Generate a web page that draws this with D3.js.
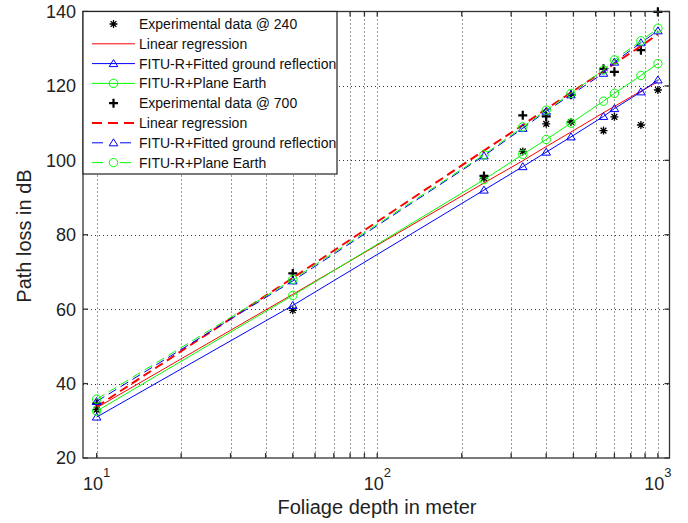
<!DOCTYPE html>
<html>
<head>
<meta charset="utf-8">
<script src="https://cdn.jsdelivr.net/npm/d3@7"></script>
<style>
  html, body { margin: 0; padding: 0; background: #fff; }
  svg { display: block; font-family: "Liberation Sans", Arial, Helvetica, sans-serif; }
</style>
</head>
<body>
<svg id="chart" width="688" height="523"></svg>
<script>
// Foliage depth (m) at which every curve is evaluated
const depth = [10, 50, 240, 330, 400, 490, 640, 700, 870, 1000];

// 240 MHz
const measured240    = [33.0, 59.7, 95.2, 102.4, 109.8, 110.3, 108.0, 111.7, 109.5, 118.9];
const regression240  = [33.5, 64.0, 93.9, 99.9, 103.7, 107.6, 112.8, 114.5, 118.6, 121.1];
const fitted240      = [31.0, 61.0, 92.0, 98.3, 102.2, 106.3, 111.8, 113.9, 118.4, 121.6];
const planeEarth240  = [32.6, 63.7, 94.8, 101.6, 105.6, 110.0, 115.9, 118.0, 122.8, 126.0];

// 700 MHz
const measured700    = [34.6, 69.6, 95.8, 112.1, 111.8, 117.6, 124.6, 123.8, 129.6, 139.9];
const regression700  = [33.8, 68.4, 102.6, 109.5, 113.8, 118.2, 124.0, 126.0, 130.7, 133.9];
const fitted700      = [35.2, 67.6, 101.2, 108.6, 113.2, 117.6, 123.4, 126.4, 131.6, 134.8];
const planeEarth700  = [35.8, 68.0, 101.5, 109.0, 113.5, 118.0, 124.3, 127.0, 132.1, 135.5];

// Axis ticks
const yTicks = [20, 40, 60, 80, 100, 120, 140];
const xMajor = [10, 100, 1000];
const xMinor = [20, 30, 40, 50, 60, 70, 80, 90, 200, 300, 400, 500, 600, 700, 800, 900];
const xExponents = ["1", "2", "3"];

// Legend labels
const legendLabels = [
  "Experimental data @ 240",
  "Linear regression",
  "FITU-R+Fitted ground reflection",
  "FITU-R+Plane Earth",
  "Experimental data @ 700",
  "Linear regression",
  "FITU-R+Fitted ground reflection",
  "FITU-R+Plane Earth"
];

const svg = d3.select("#chart");
const plot = { left: 83, right: 669.5, top: 11.5, bottom: 458 };

const x = d3.scaleLog().domain([8.94, 1100]).range([plot.left, plot.right]);
const y = d3.scaleLinear().domain([20, 140]).range([plot.bottom, plot.top]);

const RED = "#ff0000", BLUE = "#0000ff", GREEN = "#00ff00", INK = "#000";

// Series definitions, in drawing order
const series = [
  { values: measured240,   kind: "points", marker: "asterisk" },
  { values: regression240, kind: "line", color: RED,   width: 1, dash: null },
  { values: fitted240,     kind: "line", color: BLUE,  width: 1, dash: null, marker: "triangle" },
  { values: planeEarth240, kind: "line", color: GREEN, width: 1, dash: null, marker: "circle" },
  { values: measured700,   kind: "points", marker: "plus" },
  { values: regression700, kind: "line", color: RED,   width: 2, dash: "9,5", legendDash: "10,6" },
  { values: fitted700,     kind: "line", color: BLUE,  width: 1, dash: "9,5", legendDash: "11,17", marker: "triangle" },
  { values: planeEarth700, kind: "line", color: GREEN, width: 1, dash: "9,5", legendDash: "11,17", marker: "circle" }
];

// Marker drawing helper
function drawMarker(g, type, cx, cy, color) {
  if (type === "triangle") {
    const w = 4.3, h = 4;
    g.append("path")
      .attr("d", `M${cx},${cy - h} L${cx + w},${cy + h * 0.75} L${cx - w},${cy + h * 0.75} Z`)
      .attr("fill", "none").attr("stroke", color).attr("stroke-width", 1);
  } else if (type === "circle") {
    g.append("circle").attr("cx", cx).attr("cy", cy).attr("r", 4.2)
      .attr("fill", "none").attr("stroke", color).attr("stroke-width", 1);
  } else if (type === "plus") {
    const r = 4.5;
    g.append("path")
      .attr("d", `M${cx - r},${cy} H${cx + r} M${cx},${cy - r} V${cy + r}`)
      .attr("stroke", INK).attr("stroke-width", 2.2).attr("fill", "none");
  } else if (type === "asterisk") {
    const r = 4, k = r * 0.72;
    g.append("path")
      .attr("d", `M${cx - r},${cy} H${cx + r} M${cx},${cy - r} V${cy + r} M${cx - k},${cy - k} L${cx + k},${cy + k} M${cx - k},${cy + k} L${cx + k},${cy - k}`)
      .attr("stroke", INK).attr("stroke-width", 1.3).attr("fill", "none");
  }
}

// Grid
const grid = svg.append("g").attr("stroke", "#333").attr("stroke-width", 1)
  .attr("stroke-dasharray", "1,3");
yTicks.filter(v => v > 20 && v < 140).forEach(v => {
  grid.append("line").attr("x1", plot.left).attr("x2", plot.right)
    .attr("y1", Math.round(y(v)) + 0.5).attr("y2", Math.round(y(v)) + 0.5);
});
xMajor.concat(xMinor).forEach(v => {
  grid.append("line").attr("y1", plot.top).attr("y2", plot.bottom)
    .attr("x1", Math.round(x(v)) + 0.5).attr("x2", Math.round(x(v)) + 0.5);
});

// Data
const lineGen = d3.line().x((d, i) => x(depth[i])).y(d => y(d));
const dataLayer = svg.append("g");
series.forEach(s => {
  const g = dataLayer.append("g");
  if (s.kind === "line") {
    g.append("path").datum(s.values).attr("d", lineGen)
      .attr("fill", "none").attr("stroke", s.color).attr("stroke-width", s.width)
      .attr("stroke-dasharray", s.dash);
    if (s.marker) s.values.forEach((v, i) => drawMarker(g, s.marker, x(depth[i]), y(v), s.color));
  } else {
    s.values.forEach((v, i) => drawMarker(g, s.marker, x(depth[i]), y(v), INK));
  }
});

// Axes box and ticks
const axes = svg.append("g").attr("stroke", "#333").attr("stroke-width", 1.3).attr("fill", "none");
axes.append("rect").attr("x", plot.left).attr("y", plot.top)
  .attr("width", plot.right - plot.left).attr("height", plot.bottom - plot.top);
const tl = 5;
yTicks.forEach(v => {
  const py = y(v);
  axes.append("line").attr("x1", plot.left).attr("x2", plot.left + tl).attr("y1", py).attr("y2", py);
  axes.append("line").attr("x1", plot.right).attr("x2", plot.right - tl).attr("y1", py).attr("y2", py);
});
xMajor.concat(xMinor).forEach(v => {
  const px = x(v);
  axes.append("line").attr("x1", px).attr("x2", px).attr("y1", plot.bottom).attr("y2", plot.bottom - tl);
  axes.append("line").attr("x1", px).attr("x2", px).attr("y1", plot.top).attr("y2", plot.top + tl);
});

// Tick labels
const labels = svg.append("g").attr("fill", "#222");
yTicks.forEach(v => {
  labels.append("text").attr("x", 76).attr("y", y(v)).attr("dy", "0.36em")
    .attr("text-anchor", "end").attr("font-size", 18).text(v);
});
xMajor.forEach((v, i) => {
  const t = labels.append("text").attr("x", x(v)).attr("y", 490)
    .attr("text-anchor", "middle").attr("font-size", 18);
  t.append("tspan").text("10");
  t.append("tspan").attr("font-size", 13).attr("dy", -13).text(xExponents[i]);
});

// Axis titles
labels.append("text").attr("x", 377).attr("y", 514).attr("text-anchor", "middle")
  .attr("font-size", 20).text("Foliage depth in meter");
labels.append("text").attr("transform", "translate(31,236) rotate(-90)")
  .attr("text-anchor", "middle").attr("font-size", 20).text("Path loss in dB");

// Legend
const legend = svg.append("g");
legend.append("rect").attr("x", plot.left).attr("y", plot.top)
  .attr("width", 337 - plot.left).attr("height", 174 - plot.top)
  .attr("fill", "#fff").attr("stroke", "#222").attr("stroke-width", 1.2);
series.forEach((s, i) => {
  const cy = 24 + i * 19.8;
  const g = legend.append("g");
  if (s.kind === "line") {
    g.append("line").attr("x1", 92).attr("x2", 135).attr("y1", cy).attr("y2", cy)
      .attr("stroke", s.color).attr("stroke-width", s.width)
      .attr("stroke-dasharray", s.legendDash || null);
    if (s.marker) drawMarker(g, s.marker, 113.5, cy, s.color);
  } else {
    drawMarker(g, s.marker, 113.5, cy, INK);
  }
  g.append("text").attr("x", 139).attr("y", cy).attr("dy", "0.36em")
    .attr("font-size", 14).attr("fill", "#111").text(legendLabels[i]);
});
</script>
</body>
</html>
